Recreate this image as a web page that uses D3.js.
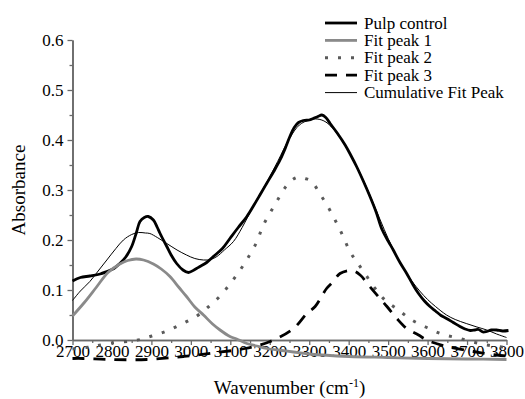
<!DOCTYPE html>
<html><head><meta charset="utf-8">
<script src="https://cdn.jsdelivr.net/npm/d3@7"></script>
<style>body{margin:0;background:#fff}svg{display:block}</style>
</head><body><svg id="c" width="525" height="399"></svg>
<script>
const xTicks=[2700,2800,2900,3000,3100,3200,3300,3400,3500,3600,3700,3800];
const yTicks=[0.0,0.1,0.2,0.3,0.4,0.5,0.6];
const seriesNames=["Pulp control","Fit peak 1","Fit peak 2","Fit peak 3","Cumulative Fit Peak"];

const pulpX=[2700,2720,2744,2770,2787,2805,2820,2835,2850,2862,2871,2882,2892,2905,2915,2922,2939,2950,2964,2980,2994,3008,3023,3040,3057,3080,3099,3120,3142,3160,3175,3192,3210,3226,3240,3251,3262,3273,3285,3300,3310,3322,3332,3342,3353,3370,3391,3405,3420,3437,3454,3470,3484,3500,3513,3530,3547,3562,3577,3592,3606,3620,3634,3648,3665,3682,3695,3708,3720,3729,3740,3750,3762,3775,3790,3805];
const pulpY=[0.118,0.125,0.128,0.132,0.137,0.143,0.153,0.166,0.187,0.215,0.237,0.245,0.247,0.240,0.225,0.213,0.187,0.170,0.153,0.140,0.135,0.140,0.147,0.155,0.167,0.183,0.203,0.225,0.247,0.270,0.290,0.313,0.337,0.360,0.385,0.407,0.425,0.435,0.439,0.440,0.443,0.447,0.450,0.445,0.433,0.415,0.390,0.370,0.347,0.318,0.287,0.255,0.222,0.198,0.180,0.155,0.133,0.112,0.093,0.078,0.067,0.058,0.049,0.043,0.035,0.027,0.022,0.019,0.020,0.021,0.016,0.017,0.020,0.020,0.018,0.019];

const peak1X=[2700,2730,2760,2790,2820,2840,2861,2880,2905,2925,2947,2970,2989,3010,3032,3055,3074,3099,3116,3142,3167,3192,3230,3260,3300,3400,3500,3600,3700,3800];
const peak1Y=[0.048,0.075,0.105,0.135,0.152,0.159,0.162,0.160,0.152,0.142,0.127,0.105,0.087,0.066,0.050,0.032,0.020,0.007,0.002,-0.007,-0.012,-0.017,-0.021,-0.024,-0.028,-0.033,-0.035,-0.037,-0.038,-0.039];

const peak2X=[2700,2744,2799,2861,2901,2939,2977,3015,3044,3074,3101,3125,3146,3167,3182,3200,3222,3241,3260,3274,3290,3306,3329,3350,3370,3386,3403,3420,3441,3467,3492,3526,3560,3598,3636,3677,3720,3758,3800];
const peak2Y=[-0.018,-0.014,-0.006,-0.001,0.008,0.018,0.032,0.048,0.066,0.088,0.114,0.140,0.166,0.196,0.227,0.253,0.283,0.307,0.322,0.326,0.323,0.317,0.290,0.263,0.233,0.207,0.177,0.157,0.133,0.103,0.080,0.060,0.040,0.025,0.012,0.004,-0.005,-0.011,-0.015];

const peak3X=[2700,2727,2795,2888,2981,3066,3137,3201,3260,3294,3315,3344,3361,3378,3408,3429,3450,3475,3497,3522,3547,3577,3598,3648,3716,3775,3800];
const peak3Y=[-0.037,-0.037,-0.039,-0.039,-0.033,-0.025,-0.017,-0.003,0.023,0.053,0.067,0.103,0.117,0.133,0.139,0.130,0.110,0.087,0.067,0.043,0.023,0.010,0.000,-0.013,-0.023,-0.030,-0.032];

const cumX=[2700,2720,2744,2765,2787,2810,2829,2850,2867,2885,2896,2915,2939,2965,2989,3010,3032,3050,3066,3085,3108,3130,3150,3170,3192,3220,3250,3275,3300,3320,3340,3360,3380,3400,3420,3440,3460,3480,3500,3520,3540,3560,3580,3600,3620,3648,3670,3698,3725,3750,3775,3800];
const cumY=[0.079,0.098,0.117,0.138,0.160,0.183,0.200,0.211,0.215,0.214,0.213,0.205,0.193,0.180,0.170,0.163,0.160,0.161,0.167,0.180,0.197,0.225,0.255,0.285,0.315,0.357,0.403,0.430,0.440,0.442,0.437,0.423,0.402,0.377,0.348,0.315,0.278,0.240,0.203,0.170,0.142,0.118,0.098,0.081,0.067,0.050,0.041,0.033,0.026,0.020,0.012,0.005];

const svg=d3.select("#c");
const x=d3.scaleLinear().domain([2700,3800]).range([72.5,506.5]);
const y=d3.scaleLinear().domain([0,0.6]).range([340,40]);

const series=[
 {name:seriesNames[0],xs:pulpX,ys:pulpY,color:"#000",w:2.8,dash:null},
 {name:seriesNames[1],xs:peak1X,ys:peak1Y,color:"#8a8a8a",w:2.8,dash:null},
 {name:seriesNames[2],xs:peak2X,ys:peak2Y,color:"#5a5a5a",w:3,dash:"3,10"},
 {name:seriesNames[3],xs:peak3X,ys:peak3Y,color:"#000",w:2.8,dash:"12,9"},
 {name:seriesNames[4],xs:cumX,ys:cumY,color:"#000",w:1,dash:null}
];

const FONT="'Liberation Serif'";
const axisColor="#6a6a6a";
function styleAxis(g){g.select(".domain").attr("stroke",axisColor).attr("stroke-width",1.6);g.selectAll(".tick line").attr("stroke",axisColor).attr("stroke-width",1.3);}
const minorX=d3.range(2750,3800,100);
const minorY=[0.05,0.15,0.25,0.35,0.45,0.55];
svg.append("g").attr("transform","translate(0,340)")
  .call(d3.axisBottom(x).tickValues(minorX).tickSize(3).tickFormat("").tickSizeOuter(0)).call(styleAxis);
svg.append("g").attr("transform","translate(72.5,0)")
  .call(d3.axisLeft(y).tickValues(minorY).tickSize(3).tickFormat("").tickSizeOuter(0)).call(styleAxis);
const gx=svg.append("g").attr("transform","translate(0,340)")
  .call(d3.axisBottom(x).tickValues(xTicks).tickSize(5).tickSizeOuter(0).tickFormat(d3.format("d"))).call(styleAxis);
gx.selectAll("text").style("font-family",FONT).style("font-size","17px").attr("fill","#000").attr("dy","0.55em");
const gy=svg.append("g").attr("transform","translate(72.5,0)")
  .call(d3.axisLeft(y).tickValues(yTicks).tickSize(5).tickSizeOuter(0).tickFormat(d3.format(".1f"))).call(styleAxis);
gy.selectAll("text").style("font-family",FONT).style("font-size","17px").attr("fill","#000").attr("x",-9);

const line=d3.line().curve(d3.curveCatmullRom.alpha(0.5));
series.forEach(s=>{
  const pts=s.xs.map((v,i)=>[x(v),y(s.ys[i])]);
  svg.append("path").attr("d",line(pts)).attr("fill","none").attr("stroke",s.color)
    .attr("stroke-width",s.w).attr("stroke-dasharray",s.dash).attr("stroke-linejoin","round");
});

const lg=svg.append("g");
series.forEach((s,i)=>{
  const yy=23+i*17.4;
  lg.append("line").attr("x1",325).attr("x2",357).attr("y1",yy).attr("y2",yy)
    .attr("stroke",s.color).attr("stroke-width",s.w).attr("stroke-dasharray",s.dash);
  lg.append("text").attr("x",364).attr("y",yy).attr("dy","0.33em")
    .style("font-family",FONT).style("font-size","17px").text(s.name);
});

const xt=svg.append("text").attr("x",289.5).attr("y",394).attr("text-anchor","middle")
  .style("font-family",FONT).style("font-size","19px");
xt.append("tspan").text("Wavenumber (cm");
xt.append("tspan").attr("dy",-7).style("font-size","12px").text("-1");
xt.append("tspan").attr("dy",7).text(")");
svg.append("text").attr("transform","translate(25,190) rotate(-90)").attr("text-anchor","middle")
  .style("font-family",FONT).style("font-size","19px").text("Absorbance");
</script></body></html>
